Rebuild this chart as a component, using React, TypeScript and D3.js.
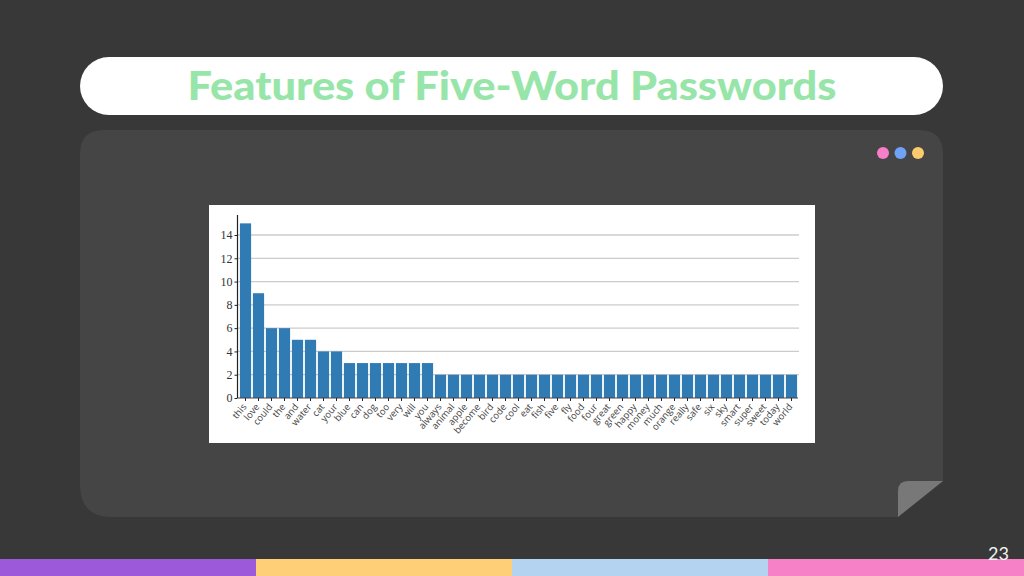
import * as d3 from 'd3';
import { useEffect, useRef } from 'react';

const words = [
  'this', 'love', 'could', 'the', 'and', 'water', 'cat', 'your', 'blue', 'can', 'dog',
  'too', 'very', 'will', 'you', 'always', 'animal', 'apple', 'become', 'bird', 'code',
  'cool', 'eat', 'fish', 'five', 'fly', 'food', 'four', 'great', 'green', 'happy',
  'money', 'much', 'orange', 'really', 'safe', 'six', 'sky', 'smart', 'super', 'sweet',
  'today', 'world',
];
const counts = [
  15, 9, 6, 6, 5, 5, 4, 4, 3, 3, 3, 3, 3, 3, 3, 2, 2, 2, 2, 2, 2, 2, 2, 2, 2, 2, 2, 2, 2,
  2, 2, 2, 2, 2, 2, 2, 2, 2, 2, 2, 2, 2, 2,
];
const yTicks = [0, 2, 4, 6, 8, 10, 12, 14];
const footerColors = ['#9c59d9', '#ffcf77', '#b3d3f0', '#f781c6'];
const dotColors = ['#f67fc8', '#6fa3f7', '#fdcb6e'];

const App = () => {
  const svgRef = useRef<SVGSVGElement>(null);

  useEffect(() => {
    if (!svgRef.current) {
      return;
    }
    const svg = d3.select(svgRef.current);
    svg.selectAll('*').remove();

    // Slide background
    svg.append('rect').attr('width', 1024).attr('height', 576).attr('fill', '#383838');
    svg.append('rect')
      .attr('x', 80).attr('y', 57).attr('width', 863).attr('height', 58)
      .attr('rx', 29).attr('fill', '#ffffff');
    svg.append('text')
      .attr('x', 512).attr('y', 100)
      .attr('text-anchor', 'middle')
      .attr('font-family', 'Lato')
      .attr('font-weight', 900)
      .attr('font-size', 39)
      .attr('textLength', 649)
      .attr('lengthAdjust', 'spacingAndGlyphs')
      .attr('fill', '#98e5a9')
      .text('Features of Five-Word Passwords');

    // Card with folded corner
    svg.append('path')
      .attr('d', 'M104,130 H919 Q943,130 943,154 V481 L898,517 H112 Q80,517 80,485 V154 Q80,130 104,130 Z')
      .attr('fill', '#454545');
    svg.append('path')
      .attr('d', 'M943,481 H908 Q898,481 898,491 V517 Z')
      .attr('fill', '#787878');

    svg.selectAll('.dot')
      .data(dotColors)
      .join('circle')
      .attr('class', 'dot')
      .attr('cx', (_, i) => 883 + i * 17.5)
      .attr('cy', 153)
      .attr('r', 6)
      .attr('fill', (d) => d);

    // Footer strip
    svg.selectAll('.foot')
      .data(footerColors)
      .join('rect')
      .attr('class', 'foot')
      .attr('x', (_, i) => i * 256)
      .attr('y', 559)
      .attr('width', 256)
      .attr('height', 17)
      .attr('fill', (d) => d);
    svg.append('text')
      .attr('x', 1009).attr('y', 560)
      .attr('text-anchor', 'end')
      .attr('font-family', 'Lato')
      .attr('font-weight', 400)
      .attr('font-size', 18)
      .attr('fill', '#f4f4f4')
      .text('23');

    // Chart image
    svg.append('rect')
      .attr('x', 209).attr('y', 205).attr('width', 606).attr('height', 238)
      .attr('fill', '#ffffff');

    const xScale = d3.scaleBand().domain(words).range([239, 798]).paddingInner(0.14).paddingOuter(0.07);
    const yScale = d3.scaleLinear().domain([0, 14]).range([398, 235]);
    const top = 215;

    const yAxis = svg.append('g')
      .attr('transform', 'translate(237.5,0)')
      .call(d3.axisLeft(yScale).tickValues(yTicks).tickSize(3).tickPadding(2));
    yAxis.select('.domain').remove();
    yAxis.selectAll('.tick line').attr('stroke', '#222222');
    yAxis.selectAll('.tick text')
      .attr('fill', '#333333')
      .attr('font-family', 'Liberation Serif')
      .attr('font-size', '12px');

    // Grid
    svg.selectAll('.grid')
      .data(yTicks.slice(1))
      .join('line')
      .attr('class', 'grid')
      .attr('x1', 238).attr('x2', 799)
      .attr('y1', (d) => yScale(d)).attr('y2', (d) => yScale(d))
      .attr('stroke', '#cccccc')
      .attr('stroke-width', 1.3);

    // Bars
    svg.selectAll('.bar')
      .data(words)
      .join('rect')
      .attr('class', 'bar')
      .attr('x', (d) => xScale(d) || 0)
      .attr('width', xScale.bandwidth())
      .attr('y', (_, i) => yScale(counts[i]))
      .attr('height', (_, i) => 398 - yScale(counts[i]))
      .attr('fill', '#317bb5');

    // X axis
    const xAxis = svg.append('g')
      .attr('transform', 'translate(0,398)')
      .call(d3.axisBottom(xScale).tickSize(3).tickPadding(2));
    xAxis.select('.domain').attr('stroke', '#444444').attr('d', 'M238,0H798');
    xAxis.selectAll('.tick line').attr('stroke', '#222222');
    xAxis.selectAll('.tick text')
      .attr('fill', '#444444')
      .attr('font-family', 'Open Sans')
      .attr('font-size', '9.5px')
      .attr('text-anchor', 'end')
      .attr('x', 0)
      .attr('y', 0)
      .attr('dy', '0.35em')
      .attr('transform', 'translate(-1,7) rotate(-50)');

    // Y spine
    svg.append('line')
      .attr('x1', 237.5).attr('x2', 237.5)
      .attr('y1', top).attr('y2', 398)
      .attr('stroke', '#222222')
      .attr('stroke-width', 1.2);
  }, []);

  return (
    <svg
      ref={svgRef}
      width={1024}
      height={576}
      style={{ position: 'fixed', left: 0, top: 0, display: 'block' }}
    />
  );
};

export default App;
